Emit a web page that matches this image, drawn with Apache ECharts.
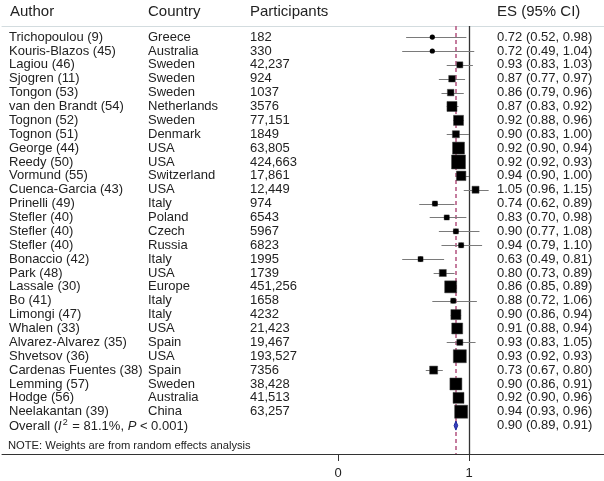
<!DOCTYPE html>
<html><head><meta charset="utf-8">
<script src="https://cdn.jsdelivr.net/npm/echarts@6/dist/echarts.min.js"></script>
<style>html,body{margin:0;padding:0;background:#fff}#c{width:604px;height:481px}</style>
</head><body><div id="c"></div>
<script>
const authors = ['Trichopoulou (9)','Kouris-Blazos (45)','Lagiou (46)','Sjogren (11)','Tongon (53)','van den Brandt (54)','Tognon (52)','Tognon (51)','George (44)','Reedy (50)','Vormund (55)','Cuenca-Garcia (43)','Prinelli (49)','Stefler (40)','Stefler (40)','Stefler (40)','Bonaccio (42)','Park (48)','Lassale (30)','Bo (41)','Limongi (47)','Whalen (33)','Alvarez-Alvarez (35)','Shvetsov (36)','Cardenas Fuentes (38)','Lemming (57)','Hodge (56)','Neelakantan (39)'];
const countries = ['Greece','Australia','Sweden','Sweden','Sweden','Netherlands','Sweden','Denmark','USA','USA','Switzerland','USA','Italy','Poland','Czech','Russia','Italy','USA','Europe','Italy','Italy','USA','Spain','USA','Spain','Sweden','Australia','China'];
const participants = ['182','330','42,237','924','1037','3576','77,151','1849','63,805','424,663','17,861','12,449','974','6543','5967','6823','1995','1739','451,256','1658','4232','21,423','19,467','193,527','7356','38,428','41,513','63,257'];
const es = [0.72,0.72,0.93,0.87,0.86,0.87,0.92,0.90,0.92,0.92,0.94,1.05,0.74,0.83,0.90,0.94,0.63,0.80,0.86,0.88,0.90,0.91,0.93,0.93,0.73,0.90,0.92,0.94];
const ciLow = [0.52,0.49,0.83,0.77,0.79,0.83,0.88,0.83,0.90,0.92,0.90,0.96,0.62,0.70,0.77,0.79,0.49,0.73,0.85,0.72,0.86,0.88,0.83,0.92,0.67,0.86,0.90,0.93];
const ciHigh = [0.98,1.04,1.03,0.97,0.96,0.92,0.96,1.00,0.94,0.93,1.00,1.15,0.89,0.98,1.08,1.10,0.81,0.89,0.89,1.06,0.94,0.94,1.05,0.93,0.80,0.91,0.96,0.96];
// approximate random-effects weights (%)
const weights = [0.3,0.3,1.7,2.0,2.0,4.7,4.7,2.3,6.7,9.1,4.2,2.3,1.2,1.2,1.2,1.2,1.2,2.3,6.7,1.2,4.7,5.6,1.7,7.9,3.0,6.7,5.6,7.9];
const overallES = [0.90];
const overallLow = [0.89];
const overallHigh = [0.91];
const overallI2 = '81.1%';
const overallP = '< 0.001';
const headers = ['Author','Country','Participants','ES (95% CI)'];
const note = 'NOTE: Weights are from random effects analysis';
const xTickValues = [0, 1];
const nullValue = 1;

const FONT = "'Liberation Sans', Arial, sans-serif";
const COLX = [9, 148, 250, 497];
const nRows = authors.length;
const fmt = v => v.toFixed(2);
const esText = es.map((v,i)=>fmt(v)+' ('+fmt(ciLow[i])+', '+fmt(ciHigh[i])+')');
const ovText = fmt(overallES[0])+' ('+fmt(overallLow[0])+', '+fmt(overallHigh[0])+')';

const chart = echarts.init(document.getElementById('c'), null, {renderer:'canvas'});
const studyData = es.map((v,i)=>[v, ciLow[i], ciHigh[i], i, weights[i]]);
const tableData = authors.map((a,i)=>[0, i]);
const crisp = y => Math.round(y) + 0.5;

const option = {
  animation: false,
  backgroundColor: '#fff',
  grid: {left: 2, right: 0, top: 26, bottom: 27, containLabel: false},
  xAxis: [{
    type: 'value', min: -336/131, max: 266/131, position: 'bottom',
    splitLine: {show: false},
    axisLine: {show: true, onZero: false, lineStyle: {color: '#333', width: 1}},
    axisTick: {show: true, customValues: xTickValues, length: 7, lineStyle: {color: '#333'}},
    axisLabel: {show: true, customValues: xTickValues, margin: 13, fontSize: 13, color: '#222', fontFamily: FONT, formatter: v => String(v)}
  }, {
    type: 'value', min: -336/131, max: 266/131, position: 'top',
    splitLine: {show: false},
    axisLine: {show: true, onZero: false, lineStyle: {color: '#d3dcdf', width: 1}},
    axisTick: {show: false}, axisLabel: {show: false}
  }],
  yAxis: {type: 'value', inverse: true, min: -0.8, max: -0.8 + 428/13.875, show: false},
  graphic: headers.map((h,i)=>({
    type: 'text', left: COLX[i] + (i===0?1:0), top: 4,
    style: {text: h, fontSize: 15, fontFamily: FONT, fill: '#222'}
  })),
  series: [
    {
      type: 'custom', name: 'studies', coordinateSystem: 'cartesian2d', clip: false,
      data: studyData,
      renderItem: function(params, api){
        const row = api.value(3);
        const p = api.coord([api.value(0), row]);
        const pl = api.coord([api.value(1), row]);
        const ph = api.coord([api.value(2), row]);
        const y = crisp(p[1]);
        const side = Math.sqrt(api.value(4) * 21.5);
        return {type: 'group', children: [
          {type: 'line', shape: {x1: pl[0], y1: y, x2: ph[0], y2: y}, style: {stroke: '#7a7a7a', lineWidth: 1}},
          {type: 'rect', shape: {x: p[0]-side/2, y: p[1]-side/2, width: side, height: side}, style: {fill: '#000', stroke: '#444', lineWidth: 0.5}},
          {type: 'circle', shape: {cx: p[0], cy: p[1], r: 2.6}, style: {fill: '#000'}}
        ]};
      },
      markLine: {
        silent: true, symbol: 'none', label: {show: false},
        data: [
          {xAxis: nullValue, lineStyle: {color: '#333', width: 1.3, type: 'solid'}},
          {xAxis: overallES[0], lineStyle: {color: '#b3527f', width: 1.5, type: [4, 3]}}
        ]
      },
      z: 5
    },
    {
      type: 'custom', name: 'overall', coordinateSystem: 'cartesian2d', clip: false,
      data: [[overallES[0], overallLow[0], overallHigh[0], nRows]],
      renderItem: function(params, api){
        const row = api.value(3);
        const c = api.coord([api.value(0), row]);
        const l = api.coord([api.value(1), row]);
        const r = api.coord([api.value(2), row]);
        const h = 4.5;
        return {type: 'polygon', shape: {points: [[l[0]-0.5, c[1]], [c[0], c[1]-h], [r[0]+0.5, c[1]], [c[0], c[1]+h]]},
          style: {fill: '#3a3fc0', stroke: '#1b2a9c', lineWidth: 1}};
      },
      z: 6
    },
    {
      type: 'custom', name: 'table', coordinateSystem: 'cartesian2d', clip: false, silent: true,
      data: tableData.concat([[0, nRows, 'overall'], [0, nRows + 1.45, 'note']]),
      renderItem: function(params, api){
        const i = params.dataIndex;
        const y = api.coord([0, api.value(1)])[1];
        const base = {fontSize: 13, fontFamily: FONT, fill: '#222', verticalAlign: 'middle'};
        if (i < nRows) {
          return {type: 'group', children: [
            {type: 'text', style: Object.assign({text: authors[i], x: COLX[0], y: y}, base)},
            {type: 'text', style: Object.assign({text: countries[i], x: COLX[1], y: y}, base)},
            {type: 'text', style: Object.assign({text: participants[i], x: COLX[2], y: y}, base)},
            {type: 'text', style: Object.assign({text: esText[i], x: COLX[3], y: y}, base)}
          ]};
        } else if (i === nRows) {
          return {type: 'group', children: [
            {type: 'text', style: Object.assign({x: COLX[0], y: y + 1,
              text: '{n|Overall (}{i|I}{s|2}{n| = ' + overallI2 + ', }{i|P}{n| ' + overallP + ')}',
              rich: {
                n: {fontSize: 13, fontFamily: FONT, fill: '#222'},
                i: {fontSize: 13, fontFamily: FONT, fill: '#222', fontStyle: 'italic'},
                s: {fontSize: 9, fontFamily: FONT, fill: '#222', padding: [0, 1, 9, 1]}
              }}, base)},
            {type: 'text', style: Object.assign({text: ovText, x: COLX[3], y: y}, base)}
          ]};
        } else {
          return {type: 'text', style: {text: note, x: COLX[0] - 1, y: y, fontSize: 11.2, fontFamily: FONT, fill: '#222', verticalAlign: 'middle'}};
        }
      },
      z: 3
    }
  ]
};
chart.setOption(option);
</script>
</body></html>
